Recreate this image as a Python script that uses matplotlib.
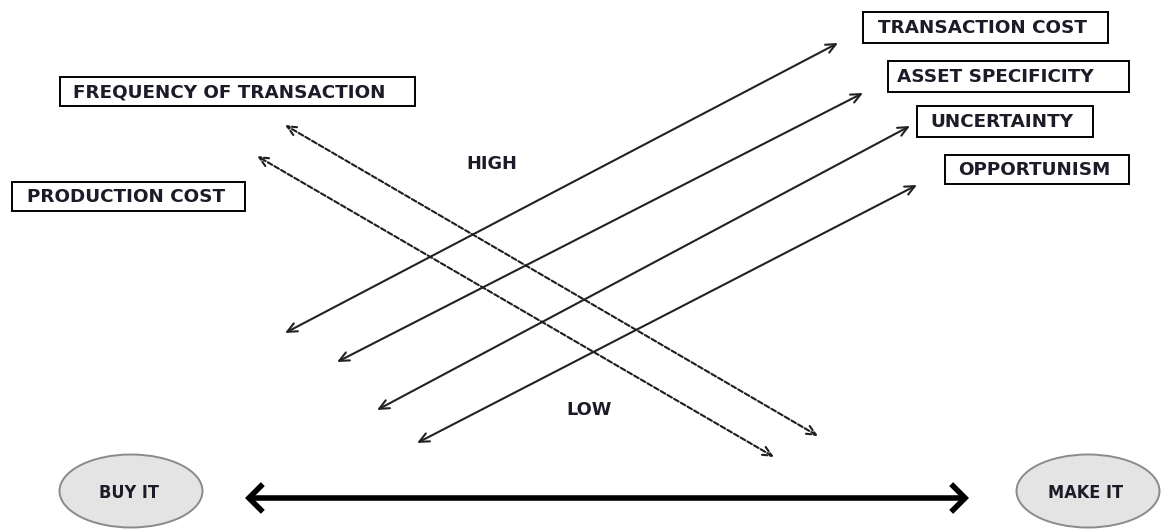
import matplotlib
matplotlib.use("Agg")
import matplotlib.pyplot as plt
from matplotlib.patches import Rectangle, Ellipse, FancyArrowPatch

# ---- data (diagram layout, pixel space of the reference) ----
factor_labels = ["TRANSACTION COST", "ASSET SPECIFICITY", "UNCERTAINTY", "OPPORTUNISM"]
factor_boxes = [(863, 12, 245, 31), (888, 61, 241, 31), (917, 106, 176, 31), (945, 155, 184, 29)]
factor_text_x = [878, 897, 930, 958]
factor_arrows = [((285, 333), (838, 43)), ((337, 362), (863, 93)),
                 ((377, 410), (910, 126)), ((417, 443), (917, 185))]

cost_labels = ["FREQUENCY OF TRANSACTION", "PRODUCTION COST"]
cost_boxes = [(60, 77, 355, 29), (12, 182, 233, 29)]
cost_text_x = [73, 27]
cost_arrows = [((285, 125), (818, 436)), ((257, 156), (774, 457))]

level_labels = ["HIGH", "LOW"]
level_pos = [(492, 164), (589, 410)]

choice_labels = ["BUY IT", "MAKE IT"]
choice_centers = [(131, 491), (1088, 491)]
choice_size = (143, 73)
main_arrow = ((245, 498), (969, 498))

W, H = 1166, 529
fig = plt.figure(figsize=(W / 100, H / 100), dpi=100)
ax = fig.add_axes([0, 0, 1, 1])
ax.set_xlim(0, W)
ax.set_ylim(H, 0)
ax.axis("off")

TXT = "#1c1c28"
FONT = ["DejaVu Sans"]

def box_label(label, box, tx):
    x, y, w, h = box
    ax.add_patch(Rectangle((x, y), w, h, fill=False, ec="black", lw=1.4))
    ax.text(tx, y + h / 2 + 0.5, label, ha="left", va="center", fontsize=13.2,
            fontweight="bold", color=TXT, family=FONT)

for lab, b, tx in zip(factor_labels, factor_boxes, factor_text_x):
    box_label(lab, b, tx)
for lab, b, tx in zip(cost_labels, cost_boxes, cost_text_x):
    box_label(lab, b, tx)

for (p0, p1) in factor_arrows:
    ax.add_patch(FancyArrowPatch(p0, p1, arrowstyle="<->,head_length=7,head_width=3.2",
                                 lw=1.5, color="#222222", shrinkA=0, shrinkB=0))
for (p0, p1) in cost_arrows:
    ax.add_patch(FancyArrowPatch(p1, p0, arrowstyle="<->,head_length=7,head_width=3.2",
                                 lw=1.5, color="#1e1e1e", linestyle=(0, (2.5, 1.2)),
                                 shrinkA=0, shrinkB=0))

for lab, (x, y) in zip(level_labels, level_pos):
    ax.text(x, y, lab, ha="center", va="center", fontsize=12.8, fontweight="bold",
            color=TXT, family=FONT)

for lab, (x, y) in zip(choice_labels, choice_centers):
    ax.add_patch(Ellipse((x, y), choice_size[0], choice_size[1], fc="#e4e4e4",
                         ec="#8a8a8a", lw=1.4))
    ax.text(x - 2, y + 2, lab, ha="center", va="center", fontsize=13, fontweight="bold",
            color=TXT, family=["Liberation Sans Narrow", "DejaVu Sans"], fontstretch="condensed")

ax.add_patch(FancyArrowPatch(main_arrow[0], main_arrow[1],
                             arrowstyle="<->,head_length=10,head_width=10",
                             lw=4.0, color="black", shrinkA=0, shrinkB=0,
                             joinstyle="miter", capstyle="butt"))

fig.savefig("out.png", dpi=100, facecolor="white")
